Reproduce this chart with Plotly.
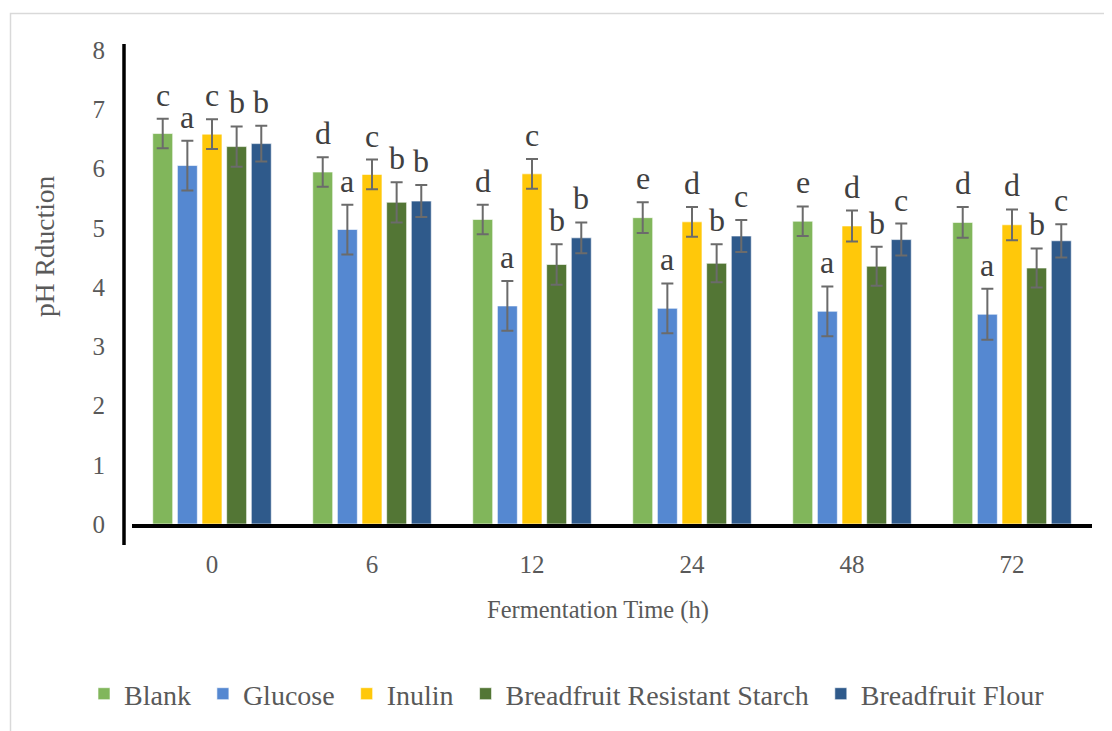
import plotly.graph_objects as go

times = ["0", "6", "12", "24", "48", "72"]
series_names = ["Blank", "Glucose", "Inulin", "Breadfruit Resistant Starch", "Breadfruit Flour"]

blank = [6.59, 5.94, 5.14, 5.17, 5.11, 5.09]
glucose = [6.05, 4.97, 3.68, 3.64, 3.59, 3.54]
inulin = [6.58, 5.90, 5.91, 5.10, 5.03, 5.05]
brs = [6.37, 5.43, 4.38, 4.40, 4.35, 4.32]
bflour = [6.42, 5.45, 4.83, 4.86, 4.80, 4.78]

err_blank = [0.25, 0.25, 0.25, 0.26, 0.25, 0.26]
err_glucose = [0.42, 0.42, 0.42, 0.42, 0.42, 0.43]
err_inulin = [0.25, 0.25, 0.25, 0.25, 0.26, 0.26]
err_brs = [0.34, 0.34, 0.34, 0.32, 0.33, 0.33]
err_bflour = [0.30, 0.27, 0.26, 0.27, 0.27, 0.28]

let_blank = ["c", "d", "d", "e", "e", "d"]
let_glucose = ["a", "a", "a", "a", "a", "a"]
let_inulin = ["c", "c", "c", "d", "d", "d"]
let_brs = ["b", "b", "b", "b", "b", "b"]
let_bflour = ["b", "b", "b", "c", "c", "c"]

colors = ["#81B65B", "#5588D1", "#FFC80A", "#537635", "#2F5A8B"]

values = [blank, glucose, inulin, brs, bflour]
errors = [err_blank, err_glucose, err_inulin, err_brs, err_bflour]
letters = [let_blank, let_glucose, let_inulin, let_brs, let_bflour]

FONT = "Liberation Serif"
GRAY = "#595959"

OFF = 8
PL, PT, PW, PH = 132, 50, 960, 474  # target plot area in screenshot pixels


def px(x):
    return (x - PL) / PW


def py(y):
    return (PT + PH - y) / PH


positions = list(range(len(times)))
n_series = len(series_names)
step = 0.154  # bar pitch within a group (fraction of category)

fig = go.Figure()
for name, vals, errs, col in zip(series_names, values, errors, colors):
    fig.add_trace(go.Bar(
        x=positions, y=vals, name=name + "\u00a0",
        marker=dict(color=col, line=dict(color="rgba(255,255,255,0.6)", width=1)),
        error_y=dict(type="data", array=errs, color="#6B6B6B", thickness=2, width=6),
    ))

annotations = []
for i, (vals, errs, lets) in enumerate(zip(values, errors, letters)):
    for p, v, e, l in zip(positions, vals, errs, lets):
        annotations.append(dict(
            x=p + (i - (n_series - 1) / 2) * step, y=v + e, xref="x", yref="y",
            text=l, showarrow=False, xanchor="center", yanchor="bottom", yshift=4,
            font=dict(family=FONT, size=32, color="#404040"),
        ))

annotations.append(dict(
    x=px(598), y=py(610), xref="paper", yref="paper",
    text="Fermentation Time (h)", showarrow=False, xanchor="center", yanchor="middle",
    font=dict(family=FONT, size=24.5, color=GRAY),
))
annotations.append(dict(
    x=px(45), y=py(246), xref="paper", yref="paper",
    text="pH Rduction", showarrow=False, xanchor="center", yanchor="middle", textangle=-90,
    font=dict(family=FONT, size=27.5, color=GRAY),
))

shapes = [
    dict(type="line", xref="paper", yref="paper",
         x0=px(124), x1=px(124), y0=py(545), y1=py(44),
         line=dict(color="black", width=3.5)),
    dict(type="rect", xref="paper", yref="paper",
         x0=px(10.5), x1=px(1130), y0=py(760), y1=py(13.5),
         line=dict(color="#D9D9D9", width=1.5), fillcolor="rgba(0,0,0,0)", layer="below"),
]

fig.update_layout(
    width=1112, height=731,
    margin=dict(l=PL - OFF, r=1112 - (PL - OFF) - PW, t=PT - OFF, b=731 - (PT - OFF) - PH),
    paper_bgcolor="white", plot_bgcolor="white",
    barmode="group", bargap=1 - n_series * step, bargroupgap=0.19,
    font=dict(family=FONT, color=GRAY),
    showlegend=True,
    legend=dict(orientation="h", x=px(84), xanchor="left",
                y=py(694), yanchor="middle",
                font=dict(family=FONT, size=28, color=GRAY),
                itemwidth=30, traceorder="normal"),
    annotations=annotations,
    shapes=shapes,
    xaxis=dict(range=[-0.5, len(times) - 0.5], tickmode="array", tickvals=positions, ticktext=times,
               showline=True, linecolor="black", linewidth=3.5, ticks="",
               showgrid=False, zeroline=False, tickfont=dict(family=FONT, size=25, color=GRAY),
               ticklabelstandoff=15),
    yaxis=dict(range=[0, 8], dtick=1, showgrid=False, zeroline=False, showline=False,
               ticks="", tickfont=dict(family=FONT, size=25, color=GRAY),
               ticklabelstandoff=26),
)

fig.write_html("out.html")
